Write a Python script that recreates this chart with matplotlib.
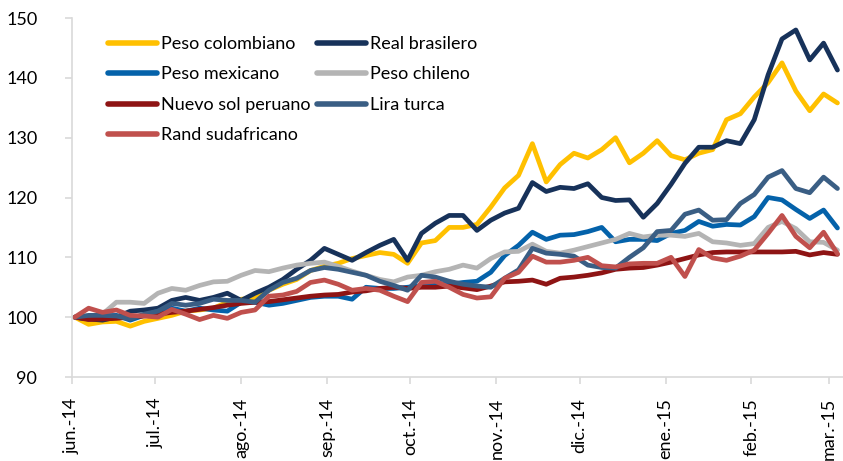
import numpy as np
import pandas as pd
import matplotlib
matplotlib.use('Agg')
import matplotlib.pyplot as plt

plt.rcParams['font.family'] = ['Lato', 'DejaVu Sans']

# one reading every 5 days, jun-2014 .. mar-2015 (index, jun 2014 = 100)
dates = pd.date_range('2014-06-02', periods=56, freq='5D')

peso_colombiano = [100, 98.8, 99.2, 99.3, 98.5, 99.3, 99.8, 100.3, 101, 101.2,
                   101.5, 102.5, 103, 103.2, 104.5, 105.5, 106.3, 107.8, 108.5, 109,
                   109.8, 110.3, 110.8, 110.5, 109, 112.4, 112.8, 115, 115, 115.5,
                   118.4, 121.6, 123.7, 129, 122.6, 125.5, 127.4, 126.6, 128, 130,
                   125.8, 127.4, 129.5, 127, 126.3, 127.4, 128, 133, 134, 136.8,
                   139.2, 142.5, 137.8, 134.5, 137.3, 135.8]
real_brasilero = [100, 99.7, 99.5, 100, 101, 101.2, 101.5, 102.8, 103.3, 102.8,
                  103.3, 104, 102.8, 104, 105, 106.3, 108, 109.5, 111.5, 110.5,
                  109.5, 110.8, 112, 113, 109.5, 114, 115.7, 117, 117, 114.5,
                  116.2, 117.4, 118.2, 122.5, 121, 121.7, 121.5, 122.3, 120, 119.5,
                  119.6, 116.7, 119, 122.2, 125.7, 128.4, 128.4, 129.5, 129, 133,
                  140.5, 146.5, 148, 143, 145.8, 141.3]
peso_mexicano = [100, 99.7, 100.2, 100.3, 99.5, 100.3, 101, 101.5, 101, 101.5,
                 101.2, 101, 102.5, 102.5, 102, 102.3, 102.8, 103.3, 103.5, 103.5,
                 103, 105, 104.8, 104.8, 105, 105.3, 105.7, 105.5, 105.8, 106,
                 107.5, 110.3, 112, 114.2, 113, 113.7, 113.8, 114.3, 115, 112.6,
                 113, 113, 112.8, 114, 114.5, 116, 115.2, 115.5, 115.4, 116.8,
                 120, 119.6, 118, 116.5, 117.9, 114.9]
peso_chileno = [100, 100.2, 100.5, 102.5, 102.5, 102.3, 104, 104.8, 104.5, 105.3,
                105.9, 106, 107, 107.8, 107.6, 108.2, 108.7, 109, 109.2, 108.5,
                107.7, 107, 106.3, 105.9, 106.7, 107, 107.6, 108, 108.7, 108.2,
                109.8, 110.9, 111, 112.2, 111, 110.7, 111.2, 111.8, 112.4, 113,
                114, 113.4, 113.7, 113.7, 113.5, 114, 112.6, 112.4, 112, 112.3,
                115, 116, 114.8, 112.6, 112.5, 111.2]
nuevo_sol = [100, 99.6, 99.7, 99.8, 100, 100.2, 100.5, 100.8, 101, 101.3,
             101.6, 102, 102.3, 102.5, 102.6, 102.9, 103.2, 103.5, 103.7, 103.8,
             104.2, 104.4, 104.8, 105, 104.8, 105, 105, 105.2, 104.9, 104.6,
             105.2, 105.9, 106, 106.2, 105.5, 106.5, 106.7, 107, 107.4, 108,
             108.2, 108.3, 108.7, 109.2, 109.8, 110.4, 110.8, 110.9, 110.9, 110.9,
             110.9, 110.9, 111, 110.4, 110.8, 110.5]
lira_turca = [100, 100.3, 100.3, 100.2, 99.7, 100.5, 101, 102.3, 102, 102.3,
              103, 102.8, 102.8, 102.5, 104.5, 105.8, 106.5, 107.8, 108.3, 108,
              107.5, 107, 106, 105.3, 104.5, 107, 106.7, 106, 105.5, 105.2,
              105, 106.5, 107.9, 111.5, 110.7, 110.5, 110.2, 108.7, 108.3, 108.2,
              110, 111.6, 114.3, 114.5, 117.2, 117.9, 116.2, 116.3, 119, 120.5,
              123.4, 124.5, 121.5, 120.8, 123.4, 121.5]
rand_sudafricano = [100, 101.5, 100.8, 101.2, 100.3, 100.2, 100, 101.3, 100.5, 99.6,
                    100.3, 99.8, 100.8, 101.2, 103.5, 103.7, 104.3, 105.8, 106.2, 105.5,
                    104.5, 104.8, 104.5, 103.5, 102.6, 105.8, 106, 105, 103.8, 103.2,
                    103.4, 106.5, 107.5, 110.2, 109.2, 109.2, 109.5, 110, 108.6, 108.4,
                    108.9, 109, 109, 110, 106.8, 111.3, 109.9, 109.5, 110.2, 111.2,
                    114, 117, 113.5, 111.6, 114.2, 110.6]

month_ticks = pd.date_range('2014-06-01', '2015-03-01', freq='MS')
month_labels = ['jun.-14', 'jul.-14', 'ago.-14', 'sep.-14', 'oct.-14',
                'nov.-14', 'dic.-14', 'ene.-15', 'feb.-15', 'mar.-15']

series = [
    ('Peso colombiano', peso_colombiano, '#FFC000'),
    ('Real brasilero', real_brasilero, '#17325A'),
    ('Peso mexicano', peso_mexicano, '#0462AA'),
    ('Peso chileno', peso_chileno, '#B4B4B4'),
    ('Nuevo sol peruano', nuevo_sol, '#8E1414'),
    ('Lira turca', lira_turca, '#3A5E84'),
    ('Rand sudafricano', rand_sudafricano, '#C0504D'),
]

fig = plt.figure(figsize=(8.43, 4.61), dpi=100)
ax = fig.add_axes([72 / 843, 84 / 461, 771 / 843, 359 / 461])

lines = {}
for name, vals, col in series:
    ln, = ax.plot(dates, vals, color=col, lw=3.4, solid_joinstyle='round',
                  solid_capstyle='round', label=name, clip_on=False)
    lines[name] = ln

ax.set_ylim(90, 150)
ax.set_yticks(np.arange(90, 151, 10))
ax.set_xlim(pd.Timestamp('2014-06-01'), pd.Timestamp('2015-03-06'))
ax.set_xticks(month_ticks)
ax.set_xticklabels(month_labels, rotation=90, ha='center', va='top', fontsize=13)

for s in ['top', 'right']:
    ax.spines[s].set_visible(False)
for s in ['left', 'bottom']:
    ax.spines[s].set_color('#D9D9D9')
    ax.spines[s].set_linewidth(1.2)
ax.tick_params(axis='both', color='#D9D9D9', width=1.2, length=5, direction='out')
ax.tick_params(axis='y', labelsize=13, pad=20)
ax.tick_params(axis='x', pad=10)

order = ['Peso colombiano', 'Peso mexicano', 'Nuevo sol peruano', 'Rand sudafricano',
         'Real brasilero', 'Peso chileno', 'Lira turca']
leg = ax.legend([lines[n] for n in order], order, ncol=2, frameon=False,
                loc='upper left', bbox_to_anchor=(108 / 843, 1 - 36 / 461),
                bbox_transform=fig.transFigure, borderpad=0, borderaxespad=0,
                fontsize=13, handlelength=2.7, handletextpad=0.25,
                labelspacing=0.8, columnspacing=0.35)
for h in leg.get_lines():
    h.set_linewidth(4)

fig.savefig('out.png', dpi=100)
